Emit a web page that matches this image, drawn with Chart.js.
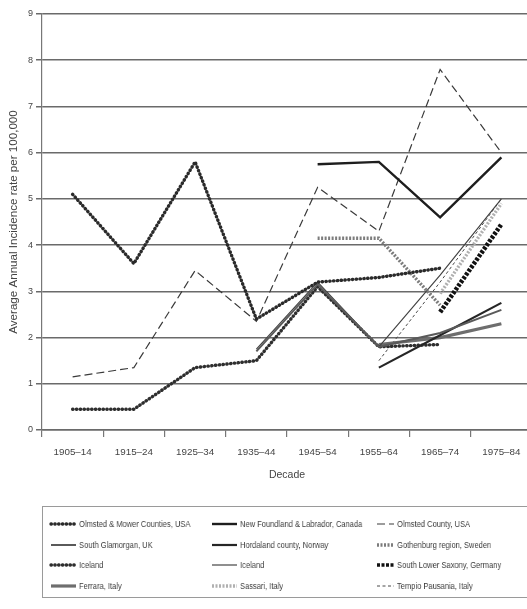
<!DOCTYPE html>
<html>
<head>
<meta charset="utf-8">
<script src="https://cdn.jsdelivr.net/npm/chart.js@4/dist/chart.umd.min.js"></script>
<style>
  html, body { margin: 0; padding: 0; background: #fff; overflow: hidden; width: 527px; height: 609px; }
  #wrap { position: absolute; left: 0; top: 0; width: 540px; height: 492px; }
  #legend {
    position: absolute; left: 42px; top: 506px; width: 500px; height: 92px;
    border: 1px solid #9a9a9a; box-sizing: border-box;
    font-family: 'Liberation Sans', Arial, sans-serif;
    font-size: 9.2px; color: #3c3c3c;
  }
  .item { position: absolute; display: flex; align-items: center; white-space: nowrap; height: 10px; }
  .item svg { margin-right: 2px; flex: none; }
  .item span { display: inline-block; transform: scaleX(0.82); transform-origin: left center; will-change: transform; }
</style>
</head>
<body>
<div id="wrap"><canvas id="c" width="540" height="492"></canvas></div>
<div id="legend"></div>
<script>
// Decades on the x axis
const decades = ['1905–14', '1915–24', '1925–34', '1935–44', '1945–54', '1955–64', '1965–74', '1975–84'];
const yTicks = [0, 1, 2, 3, 4, 5, 6, 7, 8, 9];

// Average annual incidence per 100,000, one array per study area
const olmstedMower   = [5.1, 3.6, 5.8, 2.4, 3.2, 3.3, 3.5, null];
const southGlamorgan = [null, null, null, 1.7, 3.15, 1.8, 2.1, 2.6];
const icelandA       = [0.45, 0.45, 1.35, 1.5, 3.1, 1.8, 1.85, null];
const ferrara        = [null, null, null, null, null, 1.85, 2.0, 2.3];
const newfoundland   = [null, null, null, null, 5.75, 5.8, 4.6, 5.9];
const hordaland      = [null, null, null, null, null, 1.35, 2.05, 2.75];
const icelandB       = [null, null, null, 1.75, 3.2, 1.8, 3.35, 5.0];
const sassari        = [null, null, null, null, null, null, 2.95, 4.9];
const olmstedCounty  = [1.15, 1.35, 3.45, 2.35, 5.25, 4.3, 7.8, 6.0];
const gothenburg     = [null, null, null, null, 4.15, 4.15, 2.7, null];
const lowerSaxony    = [null, null, null, null, null, null, 2.55, 4.45];
const tempio         = [null, null, null, null, null, 1.5, 3.2, 5.0];

// Line styles; "cap: round" with a near-zero dash gives a beaded dotted line
const series = [
  { label: 'Olmsted & Mower Counties, USA', data: olmstedMower,  color: '#2a2a2a', width: 3.4, dash: [0.4, 3.4], cap: 'round' },
  { label: 'New Foundland & Labrador, Canada', data: newfoundland, color: '#1e1e1e', width: 2.4, dash: [] },
  { label: 'Olmsted County, USA', data: olmstedCounty, color: '#3a3a3a', width: 1.2, dash: [8, 4] },
  { label: 'South Glamorgan, UK', data: southGlamorgan, color: '#5a5a5a', width: 2, dash: [] },
  { label: 'Hordaland county, Norway', data: hordaland, color: '#262626', width: 2.2, dash: [] },
  { label: 'Gothenburg region, Sweden', data: gothenburg, color: '#7c7c7c', width: 3.4, dash: [2, 1.5] },
  { label: 'Iceland', data: icelandA, color: '#2e2e2e', width: 3.4, dash: [0.4, 3.4], cap: 'round' },
  { label: 'Iceland', data: icelandB, color: '#444', width: 1.2, dash: [] },
  { label: 'South Lower Saxony, Germany', data: lowerSaxony, color: '#111', width: 4.6, dash: [3, 1.5] },
  { label: 'Ferrara, Italy', data: ferrara, color: '#6e6e6e', width: 3.2, dash: [] },
  { label: 'Sassari, Italy', data: sassari, color: '#b0b0b0', width: 3.4, dash: [2, 1.5] },
  { label: 'Tempio Pausania, Italy', data: tempio, color: '#4a4a4a', width: 1, dash: [3, 2.5] }
];

const datasets = series.map(s => ({
  label: s.label,
  data: s.data,
  borderColor: s.color,
  backgroundColor: s.color,
  borderWidth: s.width,
  borderDash: s.dash,
  borderCapStyle: s.cap || 'butt',
  pointRadius: 0,
  fill: false,
  tension: 0,
  spanGaps: false
}));

const font = "'Liberation Sans', Arial, sans-serif";

new Chart(document.getElementById('c'), {
  type: 'line',
  data: { labels: decades, datasets },
  options: {
    responsive: false,
    animation: false,
    layout: { padding: { top: 14, right: 8, left: 0, bottom: 0 } },
    plugins: { legend: { display: false }, tooltip: { enabled: false } },
    scales: {
      x: {
        type: 'category',
        offset: true,
        grid: { offset: true, drawOnChartArea: false, drawTicks: true, tickLength: 7, color: '#777', lineWidth: 1.2 },
        border: { color: '#6a6a6a', width: 1.5 },
        ticks: { color: '#444', font: { family: font, size: 9.8 }, padding: 9, maxRotation: 0, autoSkip: false },
        title: { display: true, text: 'Decade', color: '#444', font: { family: font, size: 10.5 }, padding: { top: 0, bottom: 11 } },
        afterFit: s => { s.height = 62; }
      },
      y: {
        min: 0, max: 9,
        afterBuildTicks: s => { s.ticks = yTicks.map(v => ({ value: v })); },
        grid: { color: '#6a6a6a', lineWidth: 1.5, tickLength: 6 },
        border: { color: '#777', width: 1.2 },
        ticks: { color: '#444', font: { family: font, size: 9 }, padding: 3 },
        title: { display: true, text: 'Average Annual Incidence rate per 100,000', color: '#444', font: { family: font, size: 11.6 }, padding: { top: 7, bottom: 0 } },
        afterFit: s => { s.width = 42; }
      }
    }
  }
});

// Legend in three columns, built from the same series
const cols = [6, 167, 332];
const swatchW = [28, 28, 20];
const rows = [17, 37.5, 58, 78.5];
const legend = document.getElementById('legend');
series.forEach((s, i) => {
  const col = i % 3, row = Math.floor(i / 3);
  const item = document.createElement('div');
  item.className = 'item';
  item.style.left = cols[col] + 'px';
  item.style.top = (rows[row] - 5) + 'px';
  const w = swatchW[col];
  const dash = s.dash.length ? `stroke-dasharray="${s.dash.join(' ')}"` : '';
  const cap = s.cap ? `stroke-linecap="${s.cap}"` : '';
  item.innerHTML = `<svg width="${w}" height="8"><line x1="2" y1="4" x2="${w - 1}" y2="4" stroke="${s.color}" stroke-width="${Math.min(s.width, 3.4)}" ${dash} ${cap}/></svg><span>${s.label}</span>`;
  legend.appendChild(item);
});
</script>
</body>
</html>
